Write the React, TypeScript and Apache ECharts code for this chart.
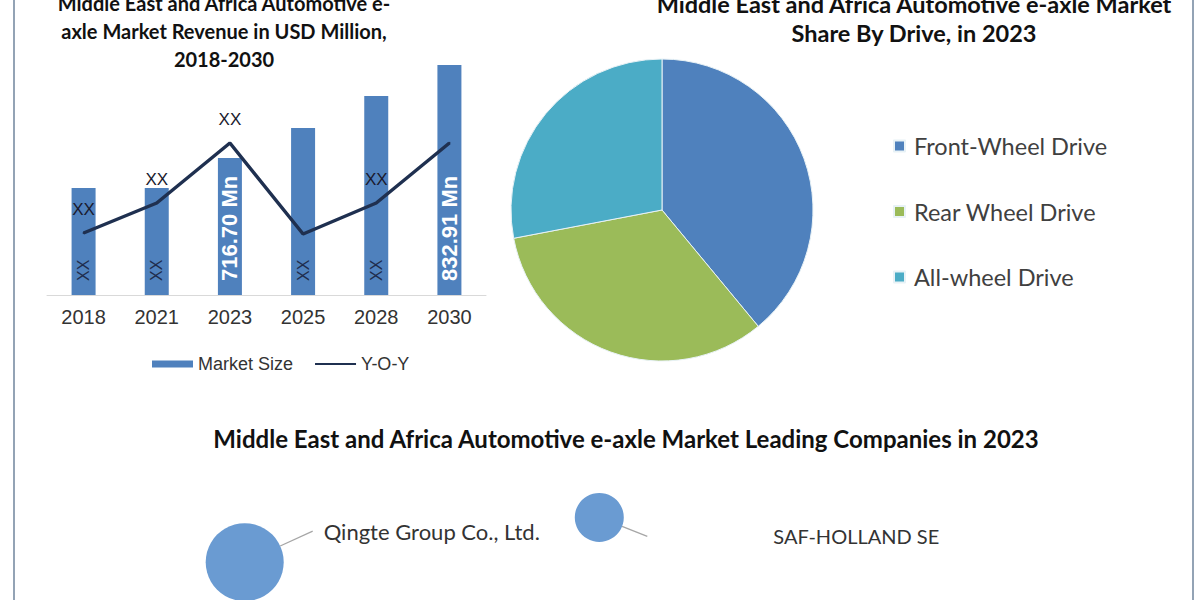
import React, { useEffect, useRef } from "react";
import * as echarts from "echarts";

const years = ["2018", "2021", "2023", "2025", "2028", "2030"];
const marketSize = [107, 107, 137, 167, 199, 230];
const barLabels = ["XX", "XX", "716.70 Mn", "XX", "XX", "832.91 Mn"];
const yoy = [62, 92, 152, 61, 92, 152];
const yoyLabels = ["XX", "XX", "XX", "", "XX", ""];

const driveNames = ["Front-Wheel Drive", "Rear Wheel Drive", "All-wheel Drive"];
const driveShares = [39, 33, 28];
const driveColors = ["#4f81bd", "#9bbb59", "#4bacc6"];

const companies = ["Qingte Group Co., Ltd.", "SAF-HOLLAND SE"];
const companyX = [1.95, 4.96];
const companyY = [2.7, 5.9];
const companySize = [39, 24.5];

const titleBar =
  "Middle East and Africa Automotive e-\naxle Market Revenue in USD Million,\n2018-2030";
const titlePie = "Middle East and Africa Automotive e-axle Market\nShare By Drive, in 2023";
const titleCompanies = "Middle East and Africa Automotive e-axle Market Leading Companies in 2023";

const CAL = "Lato, 'Open Sans', sans-serif";
const ARI = "'Liberation Sans', Arial, sans-serif";

export default function App() {
  const ref = useRef<HTMLDivElement>(null);
  useEffect(() => {
    if (!ref.current) return;
    const chart = echarts.init(ref.current, undefined, { renderer: "svg" });
    const labelShift = [
      { dx: 29, dy: -31, pad: 11, size: 22 },
      { dx: 23.5, dy: 19, pad: 126, size: 20 },
    ];
    const option: any = {
      animation: false,
      backgroundColor: "#ffffff",
      title: [
        {
          text: titleBar,
          left: 224,
          top: -11,
          padding: 0,
          textAlign: "center",
          textStyle: { fontFamily: CAL, fontWeight: "bold", fontSize: 20, lineHeight: 28, color: "#111" },
        },
        {
          text: titlePie,
          left: 914,
          top: -11,
          padding: 0,
          textAlign: "center",
          textStyle: { fontFamily: CAL, fontWeight: "bold", fontSize: 23.5, lineHeight: 29, color: "#111" },
        },
        {
          text: titleCompanies,
          left: 626,
          top: 424,
          padding: 0,
          textAlign: "center",
          textStyle: { fontFamily: CAL, fontWeight: "bold", fontSize: 24, lineHeight: 28, color: "#111" },
        },
      ],
      legend: [
        {
          data: [{ name: "Market Size", icon: "rect" }, { name: "Y-O-Y", itemStyle: { opacity: 0 } }],
          left: 147,
          top: 350,
          itemWidth: 41,
          itemHeight: 7,
          itemGap: 21,
          textStyle: { fontFamily: ARI, fontSize: 18, color: "#333" },
        },
        {
          data: driveNames,
          orient: "vertical",
          left: 888,
          top: 129,
          icon: "rect",
          itemWidth: 11,
          itemHeight: 11,
          itemGap: 41.5,
          textStyle: { fontFamily: CAL, fontSize: 23.5, color: "#404040", padding: [0, 0, 0, 4], lineHeight: 24 },
        },
      ],
      grid: [
        { left: 47, right: 714, top: 65, bottom: 305 },
        { left: 15, right: 7, top: 460, bottom: 0 },
      ],
      xAxis: [
        {
          type: "category",
          gridIndex: 0,
          data: years,
          axisLine: { lineStyle: { color: "#d9d9d9", width: 1 } },
          axisTick: { show: false },
          axisLabel: { fontFamily: ARI, fontSize: 20, color: "#333", margin: 12 },
        },
        { type: "value", gridIndex: 1, min: 0, max: 10, show: false },
      ],
      yAxis: [
        { type: "value", gridIndex: 0, min: 0, max: 230, show: false, splitLine: { show: false } },
        { type: "value", gridIndex: 1, min: 0, max: 10, show: false, splitLine: { show: false } },
      ],
      series: [
        {
          name: "Market Size",
          type: "bar",
          xAxisIndex: 0,
          yAxisIndex: 0,
          barWidth: 24,
          itemStyle: { color: "#4f81bd" },
          data: marketSize.map((v, i) => {
            const isValue = barLabels[i] !== "XX";
            return {
              value: v,
              label: {
                show: true,
                position: "insideBottom",
                rotate: 90,
                align: "left",
                verticalAlign: "middle",
                distance: 14,
                formatter: barLabels[i],
                fontFamily: ARI,
                color: isValue ? "#ffffff" : "#1f2d4d",
                fontWeight: isValue ? "bold" : "normal",
                fontSize: isValue ? 22 : 16,
              },
            };
          }),
          z: 2,
        },
        {
          name: "Y-O-Y",
          type: "line",
          xAxisIndex: 0,
          yAxisIndex: 0,
          symbol: "circle",
          symbolSize: 2,
          showSymbol: true,
          lineStyle: { color: "#1f3050", width: 3.5 },
          itemStyle: { color: "#1f3050" },
          data: yoy.map((v, i) => ({
            value: v,
            label: {
              show: yoyLabels[i] !== "",
              position: "top",
              distance: 14,
              formatter: yoyLabels[i],
              fontFamily: ARI,
              fontSize: 17,
              color: "#1a1a2e",
            },
          })),
          z: 3,
        },
        {
          name: "Share By Drive",
          type: "pie",
          center: [662, 210],
          radius: 151,
          startAngle: 90,
          clockwise: true,
          label: { show: false },
          labelLine: { show: false },
          itemStyle: { borderColor: "#e8f2f6", borderWidth: 1 },
          data: driveNames.map((n, i) => ({ name: n, value: driveShares[i], itemStyle: { color: driveColors[i] } })),
        },
        {
          name: "Companies",
          type: "scatter",
          xAxisIndex: 1,
          yAxisIndex: 1,
          symbolSize: (v: number[]) => v[2] * 2,
          itemStyle: { color: "#6a9bd2", opacity: 1 },
          data: companies.map((n, i) => ({
            name: n,
            value: [companyX[i], companyY[i], companySize[i]],
            label: {
              show: true,
              position: "right",
              distance: 0,
              formatter: "{b}",
              fontFamily: CAL,
              fontSize: labelShift[i].size,
              color: "#333",
              backgroundColor: "transparent",
              padding: [2, 0, 2, labelShift[i].pad],
            },
          })),
          labelLine: { show: true, length2: 0, lineStyle: { color: "#a6a6a6", width: 1.3 } },
          labelLayout: (p: any) => ({ dx: labelShift[p.dataIndex].dx, dy: labelShift[p.dataIndex].dy }),
        },
      ],
      graphic: [
        { type: "line", shape: { x1: 14, y1: 0, x2: 14, y2: 600 }, style: { stroke: "#6f859c", lineWidth: 1.5 } },
        { type: "line", shape: { x1: 1193, y1: 0, x2: 1193, y2: 600 }, style: { stroke: "#6f859c", lineWidth: 1.5 } },
      ],
    };
    chart.setOption(option);
    return () => chart.dispose();
  }, []);
  return (
    <div
      ref={ref}
      style={{ position: "absolute", left: 0, top: 0, width: 1200, height: 600, background: "#fff" }}
    />
  );
}
